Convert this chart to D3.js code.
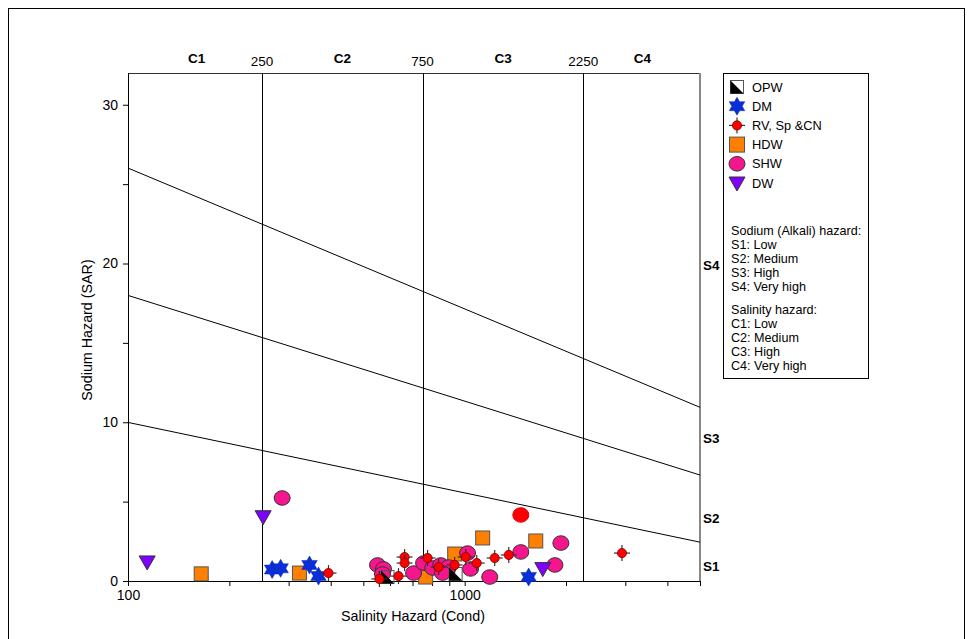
<!DOCTYPE html>
<html>
<head>
<meta charset="utf-8">
<script src="https://cdn.jsdelivr.net/npm/d3@7"></script>
<style>
  html, body { margin: 0; padding: 0; background: #fff; }
  svg { display: block; font-family: "Liberation Sans", Arial, sans-serif; }
</style>
</head>
<body>
<svg id="chart" width="973" height="639"></svg>
<script>
// ---- Data: conductivity (µS/cm) and SAR for each water-source group ----
const opwEC  = [590, 940];
const opwSAR = [0.25, 0.44];

const dmEC   = [268, 284, 346, 368, 1549];
const dmSAR  = [0.72, 0.80, 1.01, 0.31, 0.25];

const rvEC   = [394, 558, 636, 663, 663, 776, 837, 934, 1007, 1086, 1228, 1352, 2932];
const rvSAR  = [0.50, 0.13, 0.31, 1.51, 1.13, 1.45, 0.88, 1.01, 1.51, 1.13, 1.45, 1.64, 1.76];

const hdwEC  = [165, 323, 766, 934, 1131, 1626];
const hdwSAR = [0.45, 0.50, 0.25, 1.70, 2.71, 2.52];

const shwEC  = [287, 551, 574, 570, 705, 755, 804, 849, 896, 860, 1020, 1041, 1187, 1468, 1854, 1931];
const shwSAR = [5.23, 1.01, 0.76, 0.44, 0.50, 1.13, 0.82, 1.01, 0.88, 0.50, 1.76, 0.76, 0.25, 1.83, 1.01, 2.39];
const shwRedEC  = [1468];
const shwRedSAR = [4.16];

const dwEC   = [114, 252, 1706];
const dwSAR  = [1.2, 4.05, 0.78];

// Salinity class boundaries (conductivity) and class labels
const salinityBounds = [250, 750, 2250];
const salinityClasses = ["C1", "C2", "C3", "C4"];
const salinityClassMid = [160, 433, 1300, 3370];

// Sodium hazard boundaries: SAR = a - b*log10(EC)
const sodiumA = [18.87, 31.31, 43.75];
const sodiumB = [4.44, 6.66, 8.87];
const sodiumLabels = ["S1", "S2", "S3", "S4"];
const sodiumLabelSAR = [0.95, 4.0, 9.0, 19.9];

const xTicks = [100, 200, 300, 400, 500, 600, 700, 800, 900, 1000, 2000, 3000, 4000, 5000];
const xTickLabels = [100, 1000];
const yTicks = [0, 5, 10, 15, 20, 25, 30];
const yTickLabels = [0, 10, 20, 30];

const legendNames = ["OPW", "DM", "RV, Sp &CN", "HDW", "SHW", "DW"];
const notes = ["Sodium (Alkali) hazard:", "S1: Low", "S2: Medium", "S3: High", "S4: Very high",
               null, "Salinity hazard:", "C1: Low", "C2: Medium", "C3: High", "C4: Very high"];

// ---- Layout ----
const svg = d3.select("#chart");
const pLeft = 128, pRight = 700, pTop = 73, pBottom = 581;
const x = d3.scaleLog().domain([100, 5000]).range([pLeft, pRight]);
const y = d3.scaleLinear().domain([0, 32]).range([pBottom, pTop]);

const pink = "#f5158c", orange = "#ff8000", blue = "#0a2fd8", purple = "#8000ff", red = "#ff0000";
const font = "Liberation Sans, Arial, sans-serif";

// outer frame
svg.append("rect").attr("x", 8.5).attr("y", 8.5).attr("width", 956).attr("height", 660)
  .attr("fill", "none").attr("stroke", "#000").attr("stroke-width", 1);

// plot frame: top and right edges
svg.append("line").attr("x1", pLeft).attr("x2", pRight).attr("y1", pTop + 0.5).attr("y2", pTop + 0.5)
  .attr("stroke", "#333").attr("stroke-width", 1);
svg.append("line").attr("x1", pRight).attr("x2", pRight).attr("y1", pTop).attr("y2", pBottom)
  .attr("stroke", "#888").attr("stroke-width", 2);

// salinity boundaries
svg.append("g").selectAll("line").data(salinityBounds).join("line")
  .attr("x1", d => Math.round(x(d)) + 0.5).attr("x2", d => Math.round(x(d)) + 0.5)
  .attr("y1", pTop).attr("y2", pBottom)
  .attr("stroke", "#000").attr("stroke-width", 1);

svg.append("g").selectAll("text").data(salinityBounds).join("text")
  .attr("x", d => x(d)).attr("y", 66).attr("text-anchor", "middle")
  .attr("font-size", 13.5).text(d => d);

svg.append("g").selectAll("text").data(salinityClasses).join("text")
  .attr("x", (d, i) => x(salinityClassMid[i])).attr("y", 63).attr("text-anchor", "middle")
  .attr("font-size", 13.5).attr("font-weight", "bold").text(d => d);

// sodium hazard boundaries
const ecDomain = x.domain();
svg.append("g").selectAll("line").data(sodiumA).join("line")
  .attr("x1", x(ecDomain[0])).attr("x2", x(ecDomain[1]))
  .attr("y1", (a, i) => y(a - sodiumB[i] * Math.log10(ecDomain[0])))
  .attr("y2", (a, i) => y(a - sodiumB[i] * Math.log10(ecDomain[1])))
  .attr("stroke", "#000").attr("stroke-width", 1);

svg.append("g").selectAll("text").data(sodiumLabels).join("text")
  .attr("x", pRight + 3).attr("y", (d, i) => y(sodiumLabelSAR[i]) + 5)
  .attr("font-size", 13.5).attr("font-weight", "bold").text(d => d);

// axes
const xAxis = d3.axisBottom(x).tickValues(xTicks).tickSize(5).tickPadding(4)
  .tickFormat(d => xTickLabels.includes(d) ? d : "");
const gx = svg.append("g").attr("transform", `translate(0,${pBottom})`).call(xAxis);
gx.select(".domain").attr("stroke", "#000");
gx.selectAll("text").attr("font-size", 14).attr("font-family", font).attr("fill", "#000");

const yAxis = d3.axisLeft(y).tickValues(yTicks).tickSize(5).tickPadding(5)
  .tickFormat(d => yTickLabels.includes(d) ? d : "");
const gy = svg.append("g").attr("transform", `translate(${pLeft},0)`).call(yAxis);
gy.select(".domain").attr("d", `M-5,${pBottom}.5H0.5V${pTop}`).attr("stroke", "#000");
gy.selectAll("text").attr("font-size", 14).attr("font-family", font).attr("fill", "#000");

svg.append("text").attr("x", 413).attr("y", 621).attr("text-anchor", "middle")
  .attr("font-size", 14.3).text("Salinity Hazard (Cond)");
svg.append("text").attr("transform", `translate(92,330) rotate(-90)`)
  .attr("text-anchor", "middle").attr("font-size", 14.3).text("Sodium Hazard (SAR)");

// ---- Marker shapes ----
function starPath(R) {
  const pts = [];
  for (let k = 0; k < 12; k++) {
    const r = k % 2 === 0 ? R : R / Math.sqrt(3);
    const a = -Math.PI / 2 + k * Math.PI / 6;
    pts.push([r * Math.cos(a), r * Math.sin(a)]);
  }
  return "M" + pts.map(p => p.join(",")).join("L") + "Z";
}
function drawOPW(g, s, bg) {
  g.append("rect").attr("x", -s / 2).attr("y", -s / 2).attr("width", s).attr("height", s)
    .attr("fill", bg).attr("stroke", "#555").attr("stroke-width", 1);
  g.append("path").attr("d", `M${-s / 2},${-s / 2}L${-s / 2},${s / 2}L${s / 2},${s / 2}Z`).attr("fill", "#000");
}
function drawDM(g) {
  g.append("path").attr("d", starPath(9)).attr("fill", blue).attr("stroke", "#0a2aa8").attr("stroke-width", 0.5);
}
function drawRV(g) {
  g.append("line").attr("x1", -8).attr("x2", 8).attr("stroke", "#333").attr("stroke-width", 1.2);
  g.append("line").attr("y1", -8).attr("y2", 8).attr("stroke", "#333").attr("stroke-width", 1.2);
  g.append("circle").attr("r", 4.6).attr("fill", red).attr("stroke", "#700").attr("stroke-width", 0.8);
}
function drawHDW(g, s) {
  g.append("rect").attr("x", -s / 2).attr("y", -s / 2).attr("width", s).attr("height", s)
    .attr("fill", orange).attr("stroke", "#555").attr("stroke-width", 1);
}
function drawSHW(g, fill, stroke) {
  g.append("ellipse").attr("rx", 8).attr("ry", 7.3).attr("fill", fill).attr("stroke", stroke).attr("stroke-width", 1);
}
function drawDW(g) {
  g.append("path").attr("d", "M-8,-6L8,-6L0,8Z").attr("fill", purple).attr("stroke", "#333").attr("stroke-width", 1);
}

function plot(ec, sar, draw) {
  const layer = svg.append("g");
  ec.forEach((e, i) => {
    const g = layer.append("g").attr("transform", `translate(${x(e)},${y(sar[i])})`);
    draw(g);
  });
}

plot(hdwEC, hdwSAR, g => drawHDW(g, 14));
plot(shwEC, shwSAR, g => drawSHW(g, pink, "#333"));
plot(shwRedEC, shwRedSAR, g => drawSHW(g, red, "#e00000"));
plot(opwEC, opwSAR, g => drawOPW(g, 13, "none"));
plot(dmEC, dmSAR, drawDM);
plot(rvEC, rvSAR, drawRV);
plot(dwEC, dwSAR, drawDW);

// ---- Legend ----
const lg = svg.append("g");
lg.append("rect").attr("x", 723.5).attr("y", 73.5).attr("width", 145).attr("height", 305)
  .attr("fill", "#fff").attr("stroke", "#000").attr("stroke-width", 1);
const legendDraw = [g => drawOPW(g, 13, "#fff"), drawDM, drawRV, g => drawHDW(g, 15), g => drawSHW(g, pink, "#333"), drawDW];
legendNames.forEach((name, i) => {
  const cy = 87 + i * 19.2;
  legendDraw[i](lg.append("g").attr("transform", `translate(737,${cy})`));
  lg.append("text").attr("x", 752).attr("y", cy + 4.5).attr("font-size", 12.8).text(name);
});
let ny = 235;
notes.forEach(t => {
  if (t === null) { ny += 8; return; }
  lg.append("text").attr("x", 731).attr("y", ny).attr("font-size", 12.6).text(t);
  ny += 14.1;
});
</script>
</body>
</html>
